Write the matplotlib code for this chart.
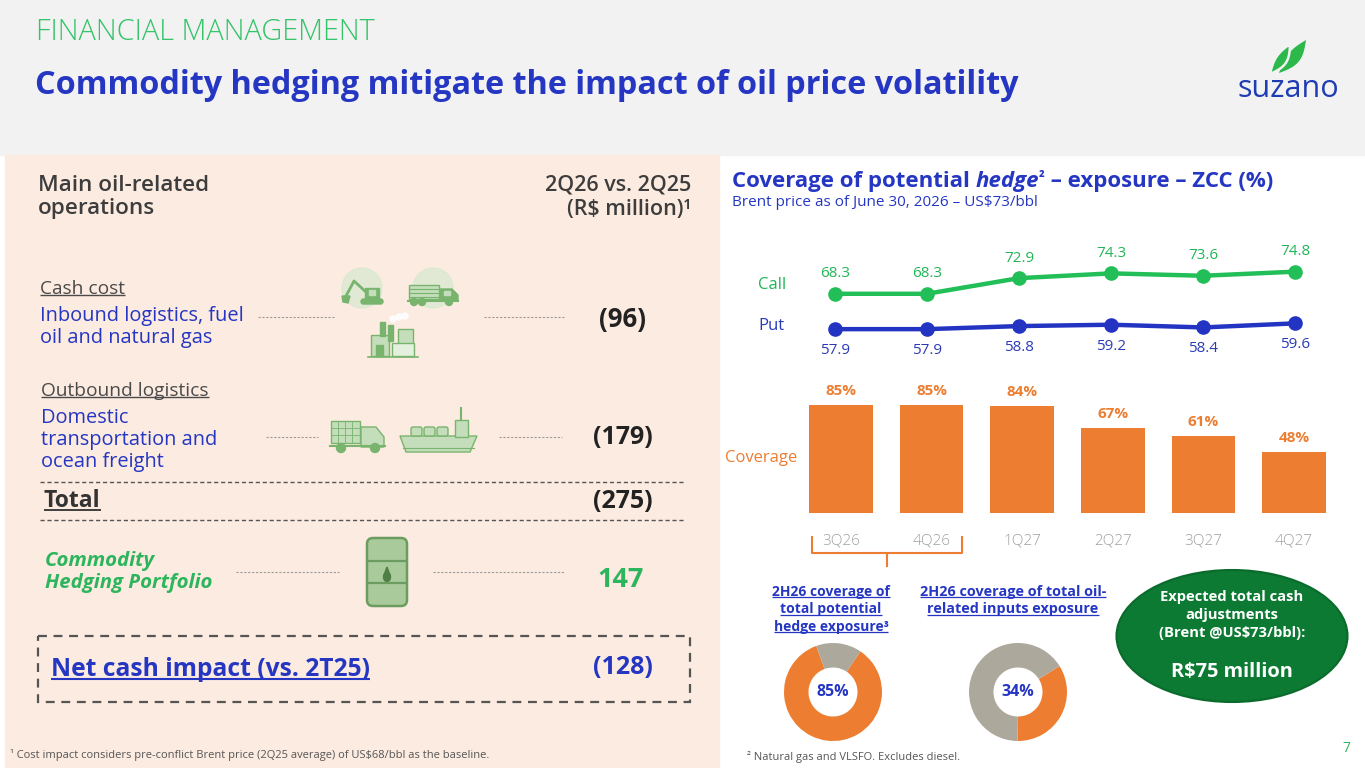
import matplotlib
matplotlib.use("Agg")
import numpy as np
import matplotlib.pyplot as plt
from matplotlib.patches import Rectangle, FancyBboxPatch, Circle, Ellipse, Polygon

plt.rcParams['font.family'] = ['Open Sans', 'DejaVu Sans']

# ---- data ----
quarters = ['3Q26', '4Q26', '1Q27', '2Q27', '3Q27', '4Q27']
call_strike = [68.3, 68.3, 72.9, 74.3, 73.6, 74.8]
put_strike = [57.9, 57.9, 58.8, 59.2, 58.4, 59.6]
coverage_pct = [85, 85, 84, 67, 61, 48]

donut_hedge = [85, 15]       # 2H26 coverage of total potential hedge exposure
donut_inputs = [34, 66]      # 2H26 coverage of total oil-related inputs exposure

ops_labels = ['Inbound logistics, fuel\noil and natural gas',
              'Domestic\ntransportation and\nocean freight']
ops_values = ['(96)', '(179)']
total_value = '(275)'
hedge_value = '147'
net_value = '(128)'

# ---- colours ----
BLUE = '#2536C2'
GREEN = '#22B557'
ORANGE = '#ED7D31'
GREY = '#ADA89C'
DARK = '#333333'
ICON = '#78B46D'
ICON_L = '#C4DEBB'

W, H = 1365, 768
fig = plt.figure(figsize=(W / 100, H / 100), dpi=100)
bg = fig.add_axes([0, 0, 1, 1])
bg.set_xlim(0, W)
bg.set_ylim(H, 0)
bg.axis('off')
r = fig.canvas.get_renderer()


def px_axes(x0, y0, x1, y1):
    return fig.add_axes([x0 / W, 1 - y1 / H, (x1 - x0) / W, (y1 - y0) / H])


def bbox_of(t):
    bb = t.get_window_extent(renderer=r)
    inv = bg.transData.inverted()
    (xa, ya), (xb, yb) = inv.transform([(bb.x0, bb.y0), (bb.x1, bb.y1)])
    return min(xa, xb), max(xa, xb), min(ya, yb), max(ya, yb)


def underline(t, color, lw=1.0, off=0):
    x0, x1, y0, y1 = bbox_of(t)
    bg.plot([x0, x1], [y1 - 3 + off, y1 - 3 + off], color=color, lw=lw, solid_capstyle='butt')


def dots(x0, x1, y):
    bg.plot([x0, x1], [y, y], color='#9A9A9A', lw=0.8, ls=(0, (2, 1.5)))


def leaf(base, tip, bulge, color, edge=None):
    # lens shaped leaf between base and tip
    b, t = np.array(base, float), np.array(tip, float)
    d = t - b
    n = np.array([-d[1], d[0]]) / np.hypot(*d)
    s = np.linspace(0, 1, 30)
    side1 = b + np.outer(s, d) + np.outer(np.sin(np.pi * s) * bulge, n)
    side2 = b + np.outer(s[::-1], d) - np.outer(np.sin(np.pi * s[::-1]) * bulge * 0.6, n)
    bg.add_patch(Polygon(np.vstack([side1, side2]), fc=color,
                         ec=edge if edge else color, lw=1.8 if edge else 0))


# ---- backgrounds ----
bg.add_patch(Rectangle((0, 0), W, 155, color='#F2F2F2', zorder=0))
bg.add_patch(Rectangle((5, 155), 714, H - 155, color='#FCEBE0', zorder=0))

# ---- header ----
bg.text(36, 32, 'FINANCIAL MANAGEMENT', color='#35C46A', fontsize=20.8,
        fontweight='light', va='center')
bg.text(35, 85, 'Commodity hedging mitigate the impact of oil price volatility',
        color=BLUE, fontsize=23.3, fontweight='bold', va='center')
# logo
leaf((1279, 73), (1306, 40), 8, '#2DB84C')
leaf((1270, 74), (1290, 44), 7, '#2DB84C', edge='#F2F2F2')
bg.text(1288, 89, 'suzano', color='#1E3CB4', fontsize=22, ha='center', va='center')

# ---- left panel ----
bg.text(38, 197, 'Main oil-related\noperations', color='#3D3D3D', fontsize=16.2,
        fontweight='semibold', va='center', linespacing=1.18)
bg.text(691, 197, '2Q26 vs. 2Q25\n(R$ million)\u00b9', color='#3D3D3D', fontsize=15.5,
        fontweight='semibold', va='center', ha='right', linespacing=1.24)

t = bg.text(40, 289, 'Cash cost', color='#4A4A4A', fontsize=13.8, va='center')
underline(t, '#4A4A4A')
bg.text(40, 327, ops_labels[0], color=BLUE, fontsize=14.4, va='center', linespacing=1.12)
dots(258, 334, 317)
dots(484, 565, 317)
bg.text(622, 320, ops_values[0], color='#222222', fontsize=18.5, fontweight='bold',
        ha='center', va='center')

t = bg.text(41, 391, 'Outbound logistics', color='#4A4A4A', fontsize=13.8, va='center')
underline(t, '#4A4A4A')
bg.text(41, 440, ops_labels[1], color=BLUE, fontsize=14.4, va='center', linespacing=1.12)
dots(266, 318, 437)
dots(499, 562, 437)
bg.text(623, 438, ops_values[1], color='#222222', fontsize=18, fontweight='bold',
        ha='center', va='center')

bg.plot([40, 685], [482, 482], color='#555555', lw=1, ls=(0, (3, 2)))
t = bg.text(44, 501, 'Total', color=DARK, fontsize=16.5, fontweight='bold', va='center')
underline(t, DARK, lw=1.3)
bg.text(623, 501, total_value, color='#222222', fontsize=18, fontweight='bold',
        ha='center', va='center')
bg.plot([40, 685], [520, 520], color='#555555', lw=1, ls=(0, (3, 2)))

bg.text(45, 572, 'Commodity\nHedging Portfolio', color='#2DB55D', fontsize=14.7,
        fontweight='bold', fontstyle='italic', va='center', linespacing=1.12)
dots(236, 339, 572)
dots(433, 565, 572)
bg.text(621, 580, hedge_value, color='#2DB55D', fontsize=19.5, fontweight='bold',
        ha='center', va='center')

bg.add_patch(Rectangle((38, 636), 652, 66, fill=False, ec='#555555', lw=1.6,
                       ls=(0, (4, 3))))
t = bg.text(51, 669, 'Net cash impact (vs. 2T25)', color=BLUE, fontsize=17.7,
            fontweight='bold', va='center')
underline(t, BLUE, lw=1.5)
bg.text(623, 668, net_value, color=BLUE, fontsize=18, fontweight='bold',
        ha='center', va='center')

bg.text(10, 755, '\u00b9 Cost impact considers pre-conflict Brent price (2Q25 average) '
        'of US$68/bbl as the baseline.', color='#555555', fontsize=8, va='center')

# ---- icons (simplified) ----
# excavator
bg.add_patch(Circle((362, 288), 20, color='#D6E9CF', alpha=0.7))
bg.add_patch(FancyBboxPatch((361, 299), 22, 5, boxstyle='round,pad=0,rounding_size=2.5',
                            color=ICON))
bg.add_patch(Rectangle((365, 288), 14, 11, color=ICON))
bg.add_patch(Rectangle((369, 290), 6, 5, color=ICON_L))
bg.plot([366, 354, 346], [292, 281, 296], color=ICON, lw=2)
bg.add_patch(Polygon([(342, 296), (350, 296), (348, 303), (343, 302)], color=ICON))
# log truck
bg.add_patch(Circle((433, 288), 20, color='#D6E9CF', alpha=0.7))
bg.add_patch(Rectangle((409, 285), 30, 14, color=ICON_L, ec=ICON, lw=1))
for yy in (289, 293, 297):
    bg.plot([409, 439], [yy, yy], color=ICON, lw=0.8)
bg.add_patch(Polygon([(440, 289), (452, 289), (458, 295), (458, 301), (440, 301)], color=ICON))
bg.add_patch(Rectangle((444, 291), 6, 4, color=ICON_L))
bg.plot([408, 458], [301, 301], color=ICON, lw=1.5)
for xx in (414, 422, 449):
    bg.add_patch(Circle((xx, 302), 3.5, color=ICON))
# factory
bg.add_patch(Rectangle((371, 335), 18, 21, color=ICON_L, ec=ICON, lw=1))
bg.add_patch(Rectangle((380, 322), 5, 14, color=ICON))
bg.add_patch(Rectangle((388, 325), 5, 16, color=ICON))
bg.add_patch(Rectangle((398, 329), 15, 27, color=ICON_L, ec=ICON, lw=1))
bg.add_patch(Rectangle((376, 345), 7, 11, color=ICON))
bg.add_patch(Rectangle((392, 343), 22, 13, color='#E3F0DE', ec=ICON, lw=1))
for cx, cy in ((393, 319), (399, 317), (405, 316)):
    bg.add_patch(Circle((cx, cy), 3, color='white', alpha=0.9))
bg.plot([368, 418], [357, 357], color=ICON, lw=1.2)
# truck
bg.add_patch(Rectangle((331, 421), 29, 22, color=ICON_L, ec=ICON, lw=1))
for xx in (338, 345, 352):
    bg.plot([xx, xx], [421, 443], color=ICON, lw=0.6)
for yy in (428, 435):
    bg.plot([331, 360], [yy, yy], color=ICON, lw=0.6)
bg.add_patch(Polygon([(361, 427), (376, 427), (384, 437), (384, 447), (361, 447)],
                     color=ICON_L, ec=ICON, lw=1))
bg.plot([330, 385], [446, 446], color=ICON, lw=1.5)
for xx in (341, 375):
    bg.add_patch(Circle((xx, 448), 4.5, color=ICON))
# ship
bg.add_patch(Polygon([(400, 436), (477, 436), (470, 452), (406, 452)],
                     color=ICON_L, ec=ICON, lw=1))
for xx in (411, 424, 437):
    bg.add_patch(FancyBboxPatch((xx, 427), 11, 9, boxstyle='round,pad=0,rounding_size=2',
                                color=ICON_L, ec=ICON, lw=1))
bg.add_patch(Rectangle((455, 420), 13, 17, color=ICON_L, ec=ICON, lw=1))
bg.plot([461, 461], [408, 420], color=ICON, lw=1.5)
bg.plot([403, 474], [448, 448], color=ICON, lw=0.8)
# barrel
bg.add_patch(FancyBboxPatch((367, 538), 40, 68, boxstyle='round,pad=0,rounding_size=6',
                            color='#A9CB9C', ec='#6C9C60', lw=1.8))
for yy in (561, 583):
    bg.plot([368, 406], [yy, yy], color='#6C9C60', lw=1.6)
bg.add_patch(Ellipse((387, 577), 7, 9, color='#4F7F45'))
bg.add_patch(Polygon([(384, 575), (387, 567), (390, 575)], color='#4F7F45'))

# ---- right panel ----
x = 732
for s, st in (('Coverage of potential ', 'normal'), ('hedge', 'italic'),
              ('\u00b2', 'normal'), (' \u2013 exposure \u2013 ZCC (%)', 'normal')):
    fs = 11 if s == '\u00b2' else 16
    yy = 177 if s == '\u00b2' else 182
    t = bg.text(x, yy, s, color=BLUE, fontsize=fs, fontweight='bold', fontstyle=st,
                va='center')
    x0, x1, _, _ = bbox_of(t)
    x = x1
bg.text(732, 203, 'Brent price as of June 30, 2026 \u2013 US$73/bbl', color=BLUE,
        fontsize=11, va='center')

# line chart (call / put strikes)
ax = px_axes(789, 260.8, 1341, 339)
ax.patch.set_alpha(0)
idx = list(range(len(quarters)))
ax.plot(idx, call_strike, color='#22BE57', lw=3.2, marker='o', ms=9.5)
ax.plot(idx, put_strike, color='#2434C2', lw=3.2, marker='o', ms=9.5)
for i in idx:
    ax.annotate(f'{call_strike[i]:.1f}', (i, call_strike[i]), xytext=(0, 14.5),
                textcoords='offset points', ha='center', va='center',
                color='#22B557', fontsize=11)
    ax.annotate(f'{put_strike[i]:.1f}', (i, put_strike[i]), xytext=(0, -15.5),
                textcoords='offset points', ha='center', va='center',
                color='#2B3BB8', fontsize=11)
ax.set_xlim(-0.5, 5.5)
ax.set_ylim(55, 78)
ax.axis('off')
bg.text(758, 285, 'Call', color='#22B557', fontsize=12, va='center')
bg.text(758, 326, 'Put', color='#2B3BB8', fontsize=12, va='center')

# coverage bars
bx = px_axes(795.7, 386, 1339.3, 513)
bx.patch.set_alpha(0)
bars = bx.bar(idx, coverage_pct, width=0.7, color=ORANGE)
for i, v in enumerate(coverage_pct):
    bx.annotate(f'{v}%', (i, v), xytext=(0, 10), textcoords='offset points',
                ha='center', va='center', color=ORANGE, fontsize=11, fontweight='bold')
bx.set_xlim(-0.5, 5.5)
bx.set_ylim(0, 100)
bx.set_xticks(idx)
bx.set_xticklabels(quarters, color='#A0A0A0', fontsize=11, fontweight='light')
bx.tick_params(axis='x', length=0, pad=15)
bx.set_yticks([])
for sp in bx.spines.values():
    sp.set_visible(False)
bg.text(761, 458, 'Coverage', color=ORANGE, fontsize=12, ha='center', va='center')

# bracket under 2H26 quarters
bg.plot([812, 812, 962, 962], [537, 553, 553, 537], color=ORANGE, lw=1.5)
bg.plot([887, 887], [553, 566], color=ORANGE, lw=1.5)

# donut titles
for i, s in enumerate(['2H26 coverage of', 'total potential', 'hedge exposure\u00b3']):
    t = bg.text(831, 592 + i * 17.5, s, color=BLUE, fontsize=10, fontweight='bold',
                ha='center', va='center')
    underline(t, BLUE, lw=0.9, off=1)
for i, s in enumerate(['2H26 coverage of total oil-', 'related inputs exposure']):
    t = bg.text(1013, 592 + i * 17.5, s, color=BLUE, fontsize=10.4, fontweight='bold',
                ha='center', va='center')
    underline(t, BLUE, lw=0.9, off=1)

# donuts
d1 = px_axes(833 - 49, 692 - 49, 833 + 49, 692 + 49)
d1.pie(donut_hedge, colors=[ORANGE, GREY], startangle=56, counterclock=False,
       wedgeprops=dict(width=0.5))
d1.text(0, 0, f'{donut_hedge[0]}%', color=BLUE, fontsize=11.5, fontweight='bold',
        ha='center', va='center')
d1.set_xlim(-1, 1)
d1.set_ylim(-1, 1)
d2 = px_axes(1018 - 49, 692 - 49, 1018 + 49, 692 + 49)
d2.pie(donut_inputs, colors=[ORANGE, GREY], startangle=32, counterclock=False,
       wedgeprops=dict(width=0.5))
d2.text(0, 0, f'{donut_inputs[0]}%', color=BLUE, fontsize=11.5, fontweight='bold',
        ha='center', va='center')
d2.set_xlim(-1, 1)
d2.set_ylim(-1, 1)

# expected cash adjustment bubble
bg.add_patch(Ellipse((1232, 636), 231, 132, color='#0C7A33', ec='#0A6A2B', lw=1.5))
for i, s in enumerate(['Expected total cash', 'adjustments', '(Brent @US$73/bbl):']):
    bg.text(1232, 597 + i * 18, s, color='white', fontsize=10.6, fontweight='bold',
            ha='center', va='center')
bg.text(1232, 672, 'R$75 million', color='white', fontsize=14.4, fontweight='bold',
        ha='center', va='center')

bg.text(747, 757, '\u00b2 Natural gas and VLSFO. Excludes diesel.', color='#555555',
        fontsize=8, va='center')
bg.text(1346, 749, '7', color='#2DB55D', fontsize=10, ha='center', va='center')

fig.savefig('out.png', dpi=100)
